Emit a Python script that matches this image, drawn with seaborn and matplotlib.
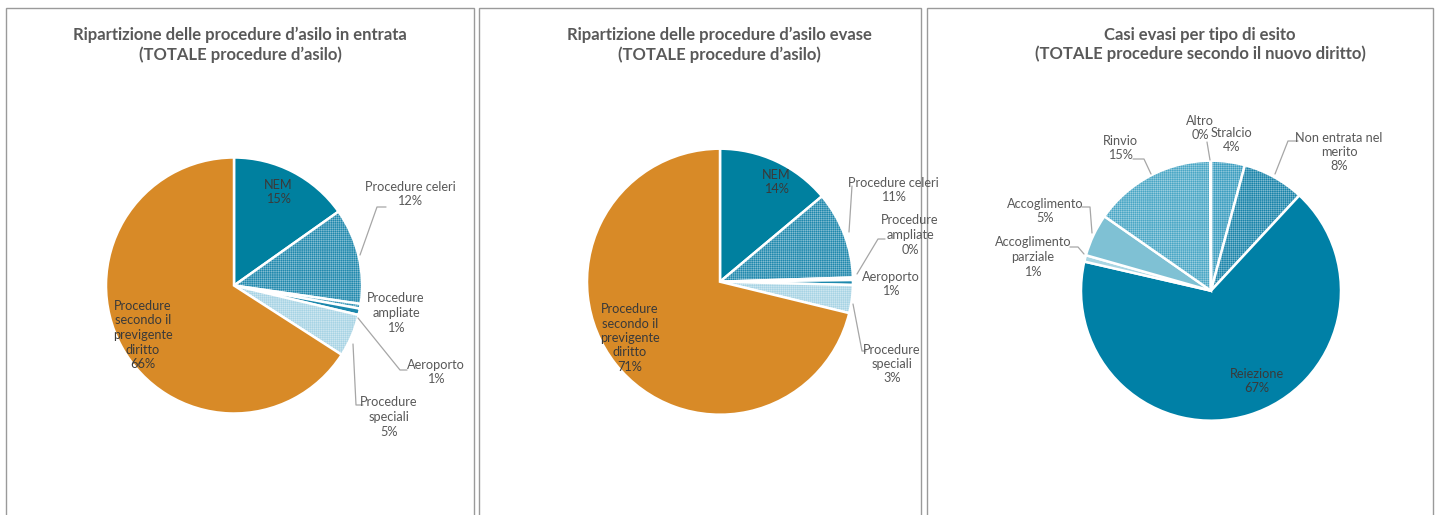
import matplotlib.pyplot as plt
import seaborn as sns
from matplotlib.patches import Rectangle

# dati
titoli = [
    "Ripartizione delle procedure d\u2019asilo in entrata\n(TOTALE procedure d\u2019asilo)",
    "Ripartizione delle procedure d\u2019asilo evase\n(TOTALE procedure d\u2019asilo)",
    "Casi evasi per tipo di esito\n(TOTALE procedure secondo il nuovo diritto)",
]

categorie_proc = ["NEM", "Procedure celeri", "Procedure\nampliate", "Aeroporto",
                  "Procedure\nspeciali", "Procedure\nsecondo il\nprevigente\ndiritto"]
entrata = [15.2, 12.1, 0.6, 0.8, 5.4, 65.9]
evase = [13.9, 10.6, 0.3, 0.6, 3.4, 71.2]

categorie_esito = ["Stralcio", "Non entrata nel\nmerito", "Reiezione", "Accoglimento\nparziale",
                   "Accoglimento", "Rinvio", "Altro"]
esiti = [4.2, 7.7, 66.7, 0.8, 5.3, 15.2, 0.1]

# colori e trame
col_proc = ["#00809f", "#1f88ad", "#2f92b5", "#1c88ad", "#a6d3e4", "#d88a27"]
hatch_proc = ["", "++++++++", "++++++++", "", "++++++++", ""]
col_esito = ["#3a9dbf", "#1883a9", "#0080a6", "#a9d6e3", "#7fc1d4", "#48a6c5", "#d6ecf3"]
hatch_esito = ["++++++++", "++++++++", "", "", "", "++++++++", ""]

sns.set_theme(style="white")
plt.rcParams['font.family'] = ['Lato', 'DejaVu Sans']
plt.rcParams['hatch.linewidth'] = 0.16

W, H = 1441, 515
TXT = "#595959"
TXT_DENTRO = "#3a3a3a"
LINE = "#a6a6a6"


def Y(y):
    return H - y


# layout di ogni grafico: centro, raggio, posizione etichette, linee guida
pannelli = [
    dict(vals=entrata, cats=categorie_proc, cols=col_proc, hatches=hatch_proc,
         centro=(234, 285.5), r=128, dentro=[0, 5],
         pos=[(278, 192), (410, 194), (396, 313), (436, 372), (389, 417), (143, 335)],
         guide=[None, [(360, 255), (377, 207), (386, 207)], None,
                [(358, 318), (400, 370), (407, 370)],
                [(353, 344), (356, 405), (363, 405)], None]),
    dict(vals=evase, cats=categorie_proc, cols=col_proc, hatches=hatch_proc,
         centro=(720, 281.7), r=133, dentro=[0, 5],
         pos=[(776, 182), (893, 190), (910, 235), (891, 284), (892, 364), (630, 338)],
         guide=[None, [(849, 232), (852, 186)],
                [(857, 274), (878, 239), (885, 239)], None,
                [(853, 304), (862, 351), (866, 351)], None]),
    dict(vals=esiti, cats=categorie_esito, cols=col_esito, hatches=hatch_esito,
         centro=(1211, 290.7), r=130, dentro=[2],
         pos=[(1232, 140), (1339, 152), (1257, 381), (1033, 257), (1045, 211), (1120, 148), (1200, 128)],
         guide=[None, [(1275, 174), (1288, 141), (1298, 141)], None,
                [(1084, 254), (1078, 247), (1070, 247)],
                [(1092, 233), (1090, 207), (1082, 207)],
                [(1151, 174), (1144, 159), (1133, 159)],
                [(1210, 160), (1207, 142)]]),
]
centri_titolo = [240, 719, 1200]
bordi = [(6, 474), (479, 921), (927, 1433)]

fig = plt.figure(figsize=(W / 100, H / 100), dpi=100)
ax = fig.add_axes([0, 0, 1, 1])

for p in pannelli:
    cx, cy = p['centro']
    wedges, _ = ax.pie(p['vals'], colors=p['cols'], startangle=90, counterclock=False,
                       center=(cx, Y(cy)), radius=p['r'],
                       wedgeprops=dict(edgecolor='white', linewidth=1.8))
    for w, h in zip(wedges, p['hatches']):
        w.set_hatch(h)
    tot = sum(p['vals'])
    for i, (cat, v, (tx, ty), g) in enumerate(zip(p['cats'], p['vals'], p['pos'], p['guide'])):
        ax.text(tx, Y(ty), f"{cat}\n{v / tot * 100:.0f}%", ha='center', va='center',
                fontsize=9.2, color=TXT_DENTRO if i in p['dentro'] else TXT, linespacing=1.25)
        if g:
            ax.plot([q[0] for q in g], [Y(q[1]) for q in g], color=LINE, lw=0.9)

for (x0, x1), xt, t in zip(bordi, centri_titolo, titoli):
    ax.add_patch(Rectangle((x0, -10), x1 - x0, Y(8) + 10, fill=False, edgecolor="#9a9a9a", lw=1.0))
    ax.text(xt, Y(44.5), t, ha='center', va='center', fontsize=12, fontweight='bold',
            color=TXT, linespacing=1.25)

ax.set_xlim(0, W)
ax.set_ylim(0, H)
ax.set_aspect('equal')
ax.axis('off')

plt.savefig('out.png', dpi=100)
